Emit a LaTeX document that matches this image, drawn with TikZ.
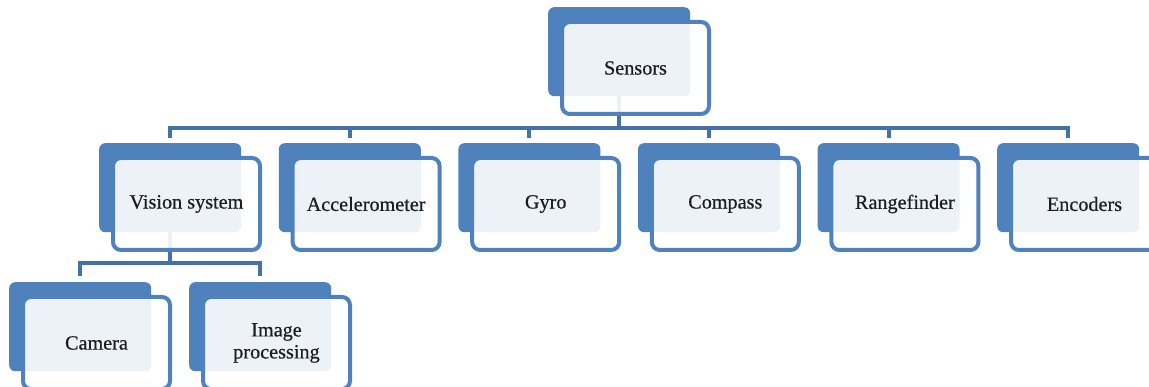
\documentclass[tikz,border=0pt]{standalone}
\usepackage{fontspec}
\setmainfont{Liberation Serif}
\newfontfamily\boxff[FakeBold=0.6]{Liberation Serif}
\definecolor{accent}{HTML}{4F81BD}
\definecolor{lineblue}{HTML}{4472A8}
\definecolor{textgrey}{HTML}{1E1E1E}
\newcommand{\boxfont}{\boxff\fontsize{20.2}{22}\selectfont}
\tikzset{
  back/.style={rectangle, fill=accent, rounded corners=6pt, minimum width=142pt, minimum height=89pt, anchor=north west, inner sep=0pt},
  front/.style={rectangle, draw=accent, line width=4pt, fill=white, fill opacity=0.9, text opacity=1, rounded corners=8pt, minimum width=147pt, minimum height=92pt, inner sep=2pt, align=center, font=\boxfont, text=textgrey},
  conn/.style={draw=lineblue, line width=4pt}
}
\begin{document}
\begin{tikzpicture}[x=1pt,y=-1pt]
\useasboundingbox (0,0) rectangle (1149,387);
\clip (0,0) rectangle (1149,387);
% back plates
\node[back] (sB) at (548,7) {};
\node[back] (vB) at (99,143) {};
\node[back] (aB) at (278.6,143) {};
\node[back] (gB) at (458.2,143) {};
\node[back] (cpB) at (637.8,143) {};
\node[back] (rB) at (817.4,143) {};
\node[back] (eB) at (997,143) {};
\node[back] (caB) at (9,282) {};
\node[back] (ipB) at (189,282) {};
% connectors
\coordinate (bus) at (0,128);
\coordinate (vbus) at (0,263);
\foreach \c in {vB,aB,gB,cpB,rB,eB}{
  \draw[conn] (sB.south) -- (sB.south |- bus) -| ([yshift=5pt]\c.north);
}
\foreach \c in {caB,ipB}{
  \draw[conn] (vB.south) -- (vB.south |- vbus) -| ([yshift=6pt]\c.north);
}
% front boxes
\node[front] (s) at (635.5,68) {Sensors};
\node[front] (v) at (186.5,204) {Vision system};
\node[front] (a) at (366.1,204) {Accelerometer};
\node[front] (g) at (545.7,204) {Gyro};
\node[front] (cp) at (725.3,204) {Compass};
\node[front] (r) at (904.9,204) {Rangefinder};
\node[front] (e) at (1084.5,204) {Encoders};
\node[front] (ca) at (96.5,343) {Camera};
\node[front] (ip) at (276.5,343) {Image\\processing};
\end{tikzpicture}
\end{document}
